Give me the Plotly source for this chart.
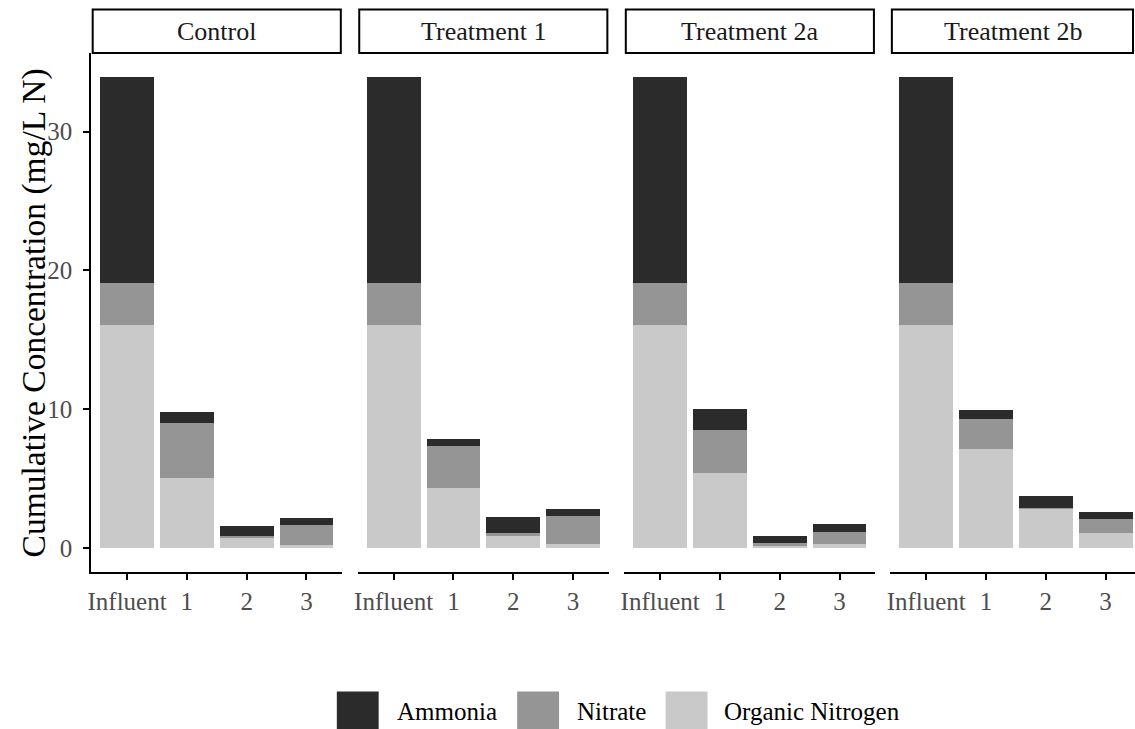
import plotly.graph_objects as go

W, H = 1135, 729

panels = ["Control", "Treatment 1", "Treatment 2a", "Treatment 2b"]
categories = ["Influent", "1", "2", "3"]

# values per panel, order: Influent, 1, 2, 3  (mg/L N)
organic = {
    "Control":      [16.1, 5.1, 0.80, 0.22],
    "Treatment 1":  [16.1, 4.35, 0.88, 0.34],
    "Treatment 2a": [16.1, 5.4, 0.20, 0.29],
    "Treatment 2b": [16.1, 7.13, 2.89, 1.10],
}
nitrate = {
    "Control":      [3.0, 3.9, 0.10, 1.45],
    "Treatment 1":  [3.0, 3.0, 0.20, 1.97],
    "Treatment 2a": [3.0, 3.15, 0.17, 0.92],
    "Treatment 2b": [3.0, 2.2, 0.05, 1.04],
}
ammonia = {
    "Control":      [14.85, 0.80, 0.70, 0.55],
    "Treatment 1":  [14.85, 0.50, 1.18, 0.52],
    "Treatment 2a": [14.85, 1.45, 0.53, 0.53],
    "Treatment 2b": [14.85, 0.60, 0.84, 0.48],
}
series = [("Organic Nitrogen", organic, "#c9c9c9"),
          ("Nitrate", nitrate, "#959595"),
          ("Ammonia", ammonia, "#2b2b2b")]
legend_order = ["Ammonia", "Nitrate", "Organic Nitrogen"]
colors = {n: c for n, _, c in series}

FONT = "Liberation Serif"

def px(x):
    return x / W

def py(y):
    return 1 - y / H

# panel pixel extents
panel_px = [(87.5, 339.5), (355, 607), (622.5, 874.5), (889.5, 1135)]
top_px, bot_px = 53, 572
strip_top = 9.5

fig = go.Figure()
for i, p in enumerate(panels):
    xa = "x" if i == 0 else f"x{i+1}"
    for name, data, col in series:
        fig.add_trace(go.Bar(
            x=categories, y=data[p], name=name, marker=dict(color=col, line=dict(width=0)),
            xaxis=xa, yaxis="y", showlegend=False, hoverinfo="skip"))

TICK = 25
layout = dict(
    width=W, height=H, margin=dict(l=0, r=0, t=0, b=0),
    plot_bgcolor="white", paper_bgcolor="white",
    barmode="stack", bargap=0.1,
    font=dict(family=FONT, color="#4d4d4d", size=TICK),
    yaxis=dict(domain=[py(bot_px), py(top_px)], range=[-1.7, 35.65],
               tickvals=[0, 10, 20, 30], ticks="outside", ticklen=6, tickwidth=1.5,
               tickcolor="black", showline=True, linecolor="black", linewidth=2,
               showgrid=False, zeroline=False, anchor="x", ticklabelstandoff=6,
               tickfont=dict(size=TICK, color="#4d4d4d", family=FONT)),
)
for i, (x0, x1) in enumerate(panel_px):
    key = "xaxis" if i == 0 else f"xaxis{i+1}"
    rng = [-0.6, 3.6] if x1 < W else [-0.6, -0.6 + (x1 - x0) / 60.0]
    layout[key] = dict(domain=[px(x0), px(x1)], range=rng, type="category",
                       anchor="y", ticks="outside", ticklen=6, tickwidth=1.5,
                       tickcolor="black", showline=True, linecolor="black", linewidth=2,
                       showgrid=False, zeroline=False,
                       tickfont=dict(size=TICK, color="#4d4d4d", family=FONT))
fig.update_layout(**layout)

shapes = []
annotations = []
for i, (x0, x1) in enumerate(panel_px):
    sx0 = x0 + 1.5
    sx1 = min(x1 - 1.5, 1133)
    shapes.append(dict(type="rect", xref="paper", yref="paper",
                       x0=px(sx0), x1=px(sx1), y0=py(top_px), y1=py(strip_top),
                       line=dict(color="black", width=2), fillcolor="white"))
    annotations.append(dict(text=panels[i], xref="paper", yref="paper",
                            x=px((x0 + x1) / 2), y=py((top_px + strip_top) / 2),
                            showarrow=False, xanchor="center", yanchor="middle",
                            font=dict(family=FONT, size=26, color="#1a1a1a")))

annotations.append(dict(text="Cumulative Concentration (mg/L N)", xref="paper", yref="paper",
                        x=px(30), y=py((top_px + bot_px) / 2), textangle=-90,
                        showarrow=False, xanchor="center", yanchor="middle",
                        font=dict(family=FONT, size=33.5, color="black")))

# legend (manual)
leg_items = [("Ammonia", 334, 392), ("Nitrate", 515, 573), ("Organic Nitrogen", 664, 721)]
for name, sx, tx in leg_items:
    shapes.append(dict(type="rect", xref="paper", yref="paper",
                       x0=px(sx), x1=px(sx + 42), y0=py(734), y1=py(691.5),
                       line=dict(width=0), fillcolor=colors[name]))
    annotations.append(dict(text=name, xref="paper", yref="paper",
                            x=px(tx), y=py(711), showarrow=False,
                            xanchor="left", yanchor="middle",
                            font=dict(family=FONT, size=25, color="black")))

fig.update_layout(shapes=shapes, annotations=annotations)
fig.write_html("out.html", config={"displayModeBar": False},
               post_script="document.body.style.margin='0';document.body.style.overflow='hidden';")
